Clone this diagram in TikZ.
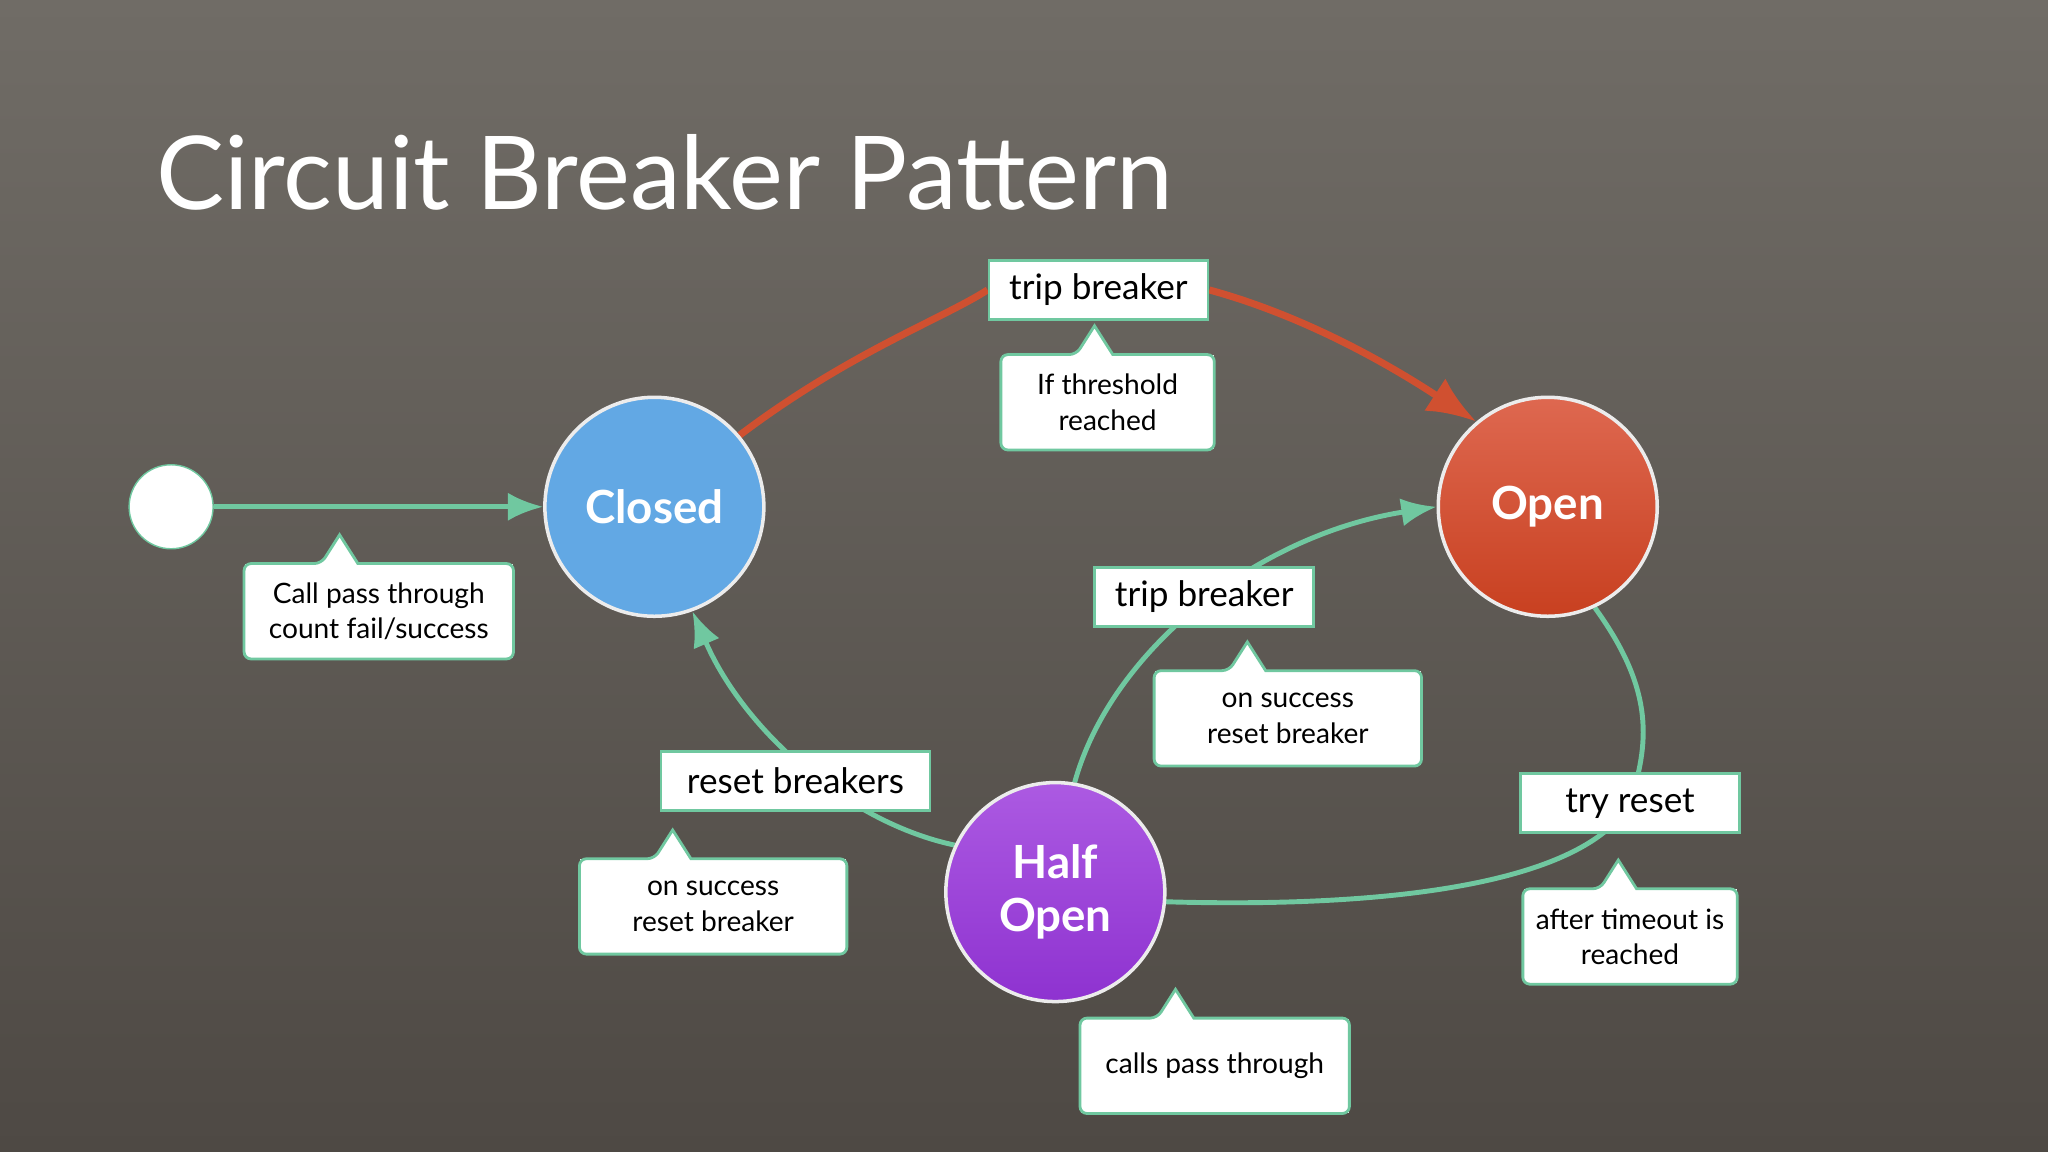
\documentclass[tikz,border=0pt]{standalone}
\usepackage{fontspec}
\setmainfont{Lato}
\usepackage{tikz}
\usetikzlibrary{calc,arrows.meta}
\pgfdeclarelayer{bg}
\pgfdeclarelayer{edges}
\pgfsetlayers{bg,edges,main}

\definecolor{linkgreen}{RGB}{112,200,160}
\definecolor{tripred}{RGB}{208,80,48}
\definecolor{bgtop}{RGB}{112,108,102}
\definecolor{bgbot}{RGB}{78,73,68}

\tikzset{
  state/.style={circle, draw=white!85!gray, line width=1pt, minimum size=2.19cm,
    text=white, font=\bfseries\fontsize{13}{15}\selectfont, align=center},
  label box/.style={draw=linkgreen, line width=0.8pt, fill=white,
    minimum width=#1, minimum height=0.59cm, font=\fontsize{10}{12}\selectfont},
  callbox/.style={fill=white, minimum width=#1, minimum height=0.94cm,
    align=center, font=\fontsize{8}{10}\selectfont},
  callline/.style={draw=linkgreen, line width=0.8pt, fill=white, rounded corners=2pt},
  link/.style={linkgreen, line width=1.4pt},
  trip/.style={tripred, line width=2pt},
}
% #1 name, #2 centre, #3 width, #4 tip offset, #5 text
\newcommand{\callout}[5]{%
  \node[callbox=#3] (#1) at #2 {#5};
  \filldraw[callline] (#1.north west) -- ($(#1.north)+(#4-14,0)$) [sharp corners]
    -- ($(#1.north)+(#4,-22)$) -- ($(#1.north)+(#4+14,0)$) [rounded corners=2pt]
    -- (#1.north east) -- (#1.south east) -- (#1.south west) -- cycle;
  \node[callbox=#3, fill=none] at #2 {#5};
}

\begin{document}
\begin{tikzpicture}[x=0.01306cm, y=-0.01306cm]
  \begin{pgfonlayer}{bg}
    \shade[top color=bgtop, bottom color=bgbot] (0,0) rectangle (1568,882);
  \end{pgfonlayer}
  \useasboundingbox (0,0) rectangle (1568,882);

  \node[anchor=west, text=white, font=\fontsize{29}{35}\selectfont] (title) at (110,132)
    {Circuit Breaker Pattern};

  % states
  \node[circle, fill=white, draw=linkgreen, minimum size=0.84cm] (start) at (131,388) {};
  \node[state, fill={rgb,255:red,98;green,168;blue,228}] (closed) at (501,388) {Closed};
  \node[state, top color={rgb,255:red,222;green,104;blue,80},
    bottom color={rgb,255:red,200;green,64;blue,32}] (open) at (1185,388) {Open};
  \node[state, top color={rgb,255:red,172;green,90;blue,226},
    bottom color={rgb,255:red,142;green,50;blue,208}] (half) at (808,683) {Half\\Open};

  % labels
  \node[label box=2.19cm] (trip1) at (841,222) {trip breaker};
  \node[label box=2.19cm] (trip2) at (922,457) {trip breaker};
  \node[label box=2.69cm] (reset) at (609,598) {reset breakers};
  \node[label box=2.19cm] (try) at (1248,615) {try reset};

  \callout{pass}{(290,468)}{2.68cm}{-30}{Call pass through\\count fail/success}
  \callout{thres}{(848,308)}{2.12cm}{-10}{If threshold\\reached}
  \callout{succ1}{(986,550)}{2.66cm}{-31}{on success\\reset breaker}
  \callout{succ2}{(546,694)}{2.66cm}{-31}{on success\\reset breaker}
  \callout{timeout}{(1248,717)}{2.13cm}{-9}{after timeout is\\reached}
  \callout{calls}{(930,816)}{2.68cm}{-30}{calls pass through}

  % connectors
  \begin{pgfonlayer}{edges}
    \draw[link, -{Latex[length=10pt,width=8pt]}] (start) -- (closed);
    \draw[trip] (closed.40) .. controls (650,270) and (720,245) .. (trip1.west);
    \draw[trip, -{Latex[length=14pt,width=11pt]}] (trip1.east)
      .. controls (1010,245) and (1080,290) .. (open.130);
    \draw[link, -{Latex[length=10pt,width=8pt]}] (half.80)
      .. controls (850,500) and (960,410) .. (open.180);
    \draw[link, -{Latex[length=10pt,width=8pt]}] (half.155)
      .. controls (650,630) and (570,560) .. (closed.290);
    \draw[link] (open.295) .. controls (1268,530) and (1262,570) .. (try.center)
      .. controls (1210,680) and (1050,695) .. (half.355);
  \end{pgfonlayer}
\end{tikzpicture}
\end{document}
